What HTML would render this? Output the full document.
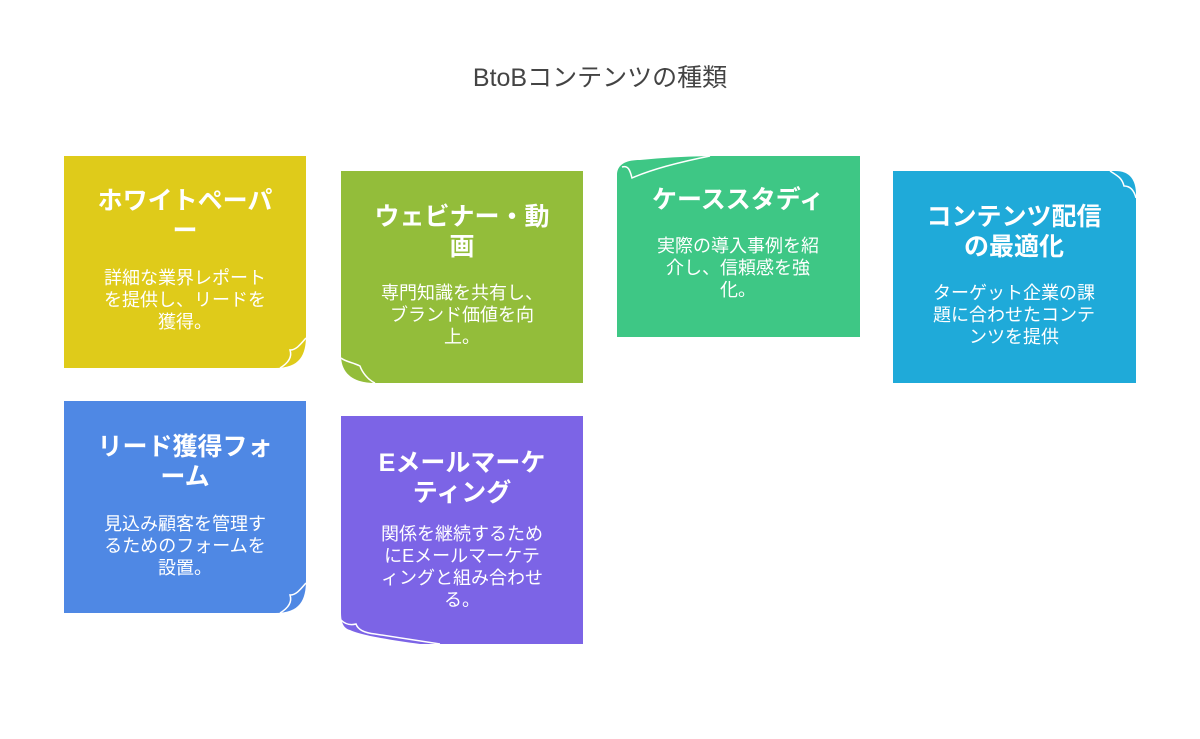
<!DOCTYPE html>
<html><head><meta charset="utf-8"><style>
html,body{margin:0;padding:0;background:#fff;}
svg{display:block;}
text{font-family:"Liberation Sans","Noto Sans CJK JP",sans-serif;}
.t{font-size:25px;font-weight:bold;fill:#fff;text-anchor:middle;}
.d{font-size:18px;fill:#fff;text-anchor:middle;}
</style></head><body>
<svg width="1200" height="739" viewBox="0 0 1200 739">
<text x="600" y="86" text-anchor="middle" font-size="25" fill="#444">BtoBコンテンツの種類</text>

<path d="M64 156 H306 V335 C306 355 300 368 275 368 H64 Z" fill="#DFCB1A"/>
<path d="M306 338 C300 345 296 350 290 350 C292 356 290 362 280 368" fill="none" stroke="#fff" stroke-width="1.5"/>
<text class="t" x="185" y="209">ホワイトペーパ</text>
<text class="t" x="185" y="239">ー</text>
<text class="d" x="185" y="284">詳細な業界レポート</text>
<text class="d" x="185" y="306">を提供し、リードを</text>
<text class="d" x="185" y="328">獲得。</text>

<path d="M341 171 H583 V383 H375 C355 383 341 375 341 355 Z" fill="#93BD3A"/>
<path d="M341 358 C346 362 352 362 360 366 C362 372 368 380 375 383" fill="none" stroke="#fff" stroke-width="1.5"/>
<text class="t" x="462" y="225">ウェビナー・動</text>
<text class="t" x="462" y="255">画</text>
<text class="d" x="462" y="299">専門知識を共有し、</text>
<text class="d" x="462" y="321">ブランド価値を向</text>
<text class="d" x="462" y="343">上。</text>

<path d="M617 175 C617 165 625 160 640 160 C670 157 700 156 720 156 H860 V337 H617 Z" fill="#3EC785"/>
<path d="M622 167 C628 165 630 170 632 178 C650 170 680 162 710 156" fill="none" stroke="#fff" stroke-width="1.5"/>
<text class="t" x="738" y="208">ケーススタディ</text>
<text class="d" x="738" y="252">実際の導入事例を紹</text>
<text class="d" x="738" y="274">介し、信頼感を強</text>
<text class="d" x="738" y="296">化。</text>

<path d="M893 171 H1115 C1130 171 1136 180 1136 195 V383 H893 Z" fill="#1FAAD9"/>
<path d="M1110 171 C1118 176 1122 178 1124 186 C1130 186 1134 190 1136 198" fill="none" stroke="#fff" stroke-width="1.5"/>
<text class="t" x="1014" y="225">コンテンツ配信</text>
<text class="t" x="1014" y="255">の最適化</text>
<text class="d" x="1014" y="299">ターゲット企業の課</text>
<text class="d" x="1014" y="321">題に合わせたコンテ</text>
<text class="d" x="1014" y="343">ンツを提供</text>

<path d="M64 401 H306 V580 C306 600 300 613 275 613 H64 Z" fill="#4F88E4"/>
<path d="M306 583 C300 590 296 595 290 595 C292 601 290 607 280 613" fill="none" stroke="#fff" stroke-width="1.5"/>
<text class="t" x="185" y="455">リード獲得フォ</text>
<text class="t" x="185" y="485">ーム</text>
<text class="d" x="185" y="530">見込み顧客を管理す</text>
<text class="d" x="185" y="552">るためのフォームを</text>
<text class="d" x="185" y="574">設置。</text>

<path d="M341 416 H583 V644 H420 C390 640 360 635 350 630 C343 628 341 622 341 612 Z" fill="#7C64E6"/>
<path d="M341 620 C346 625 352 625 356 624 C358 630 365 633 375 634 C400 638 420 641 440 644" fill="none" stroke="#fff" stroke-width="1.5"/>
<text class="t" x="462" y="471">Eメールマーケ</text>
<text class="t" x="462" y="501">ティング</text>
<text class="d" x="462" y="540">関係を継続するため</text>
<text class="d" x="462" y="562">にEメールマーケテ</text>
<text class="d" x="462" y="584">ィングと組み合わせ</text>
<text class="d" x="462" y="606">る。</text>
</svg>
</body></html>
